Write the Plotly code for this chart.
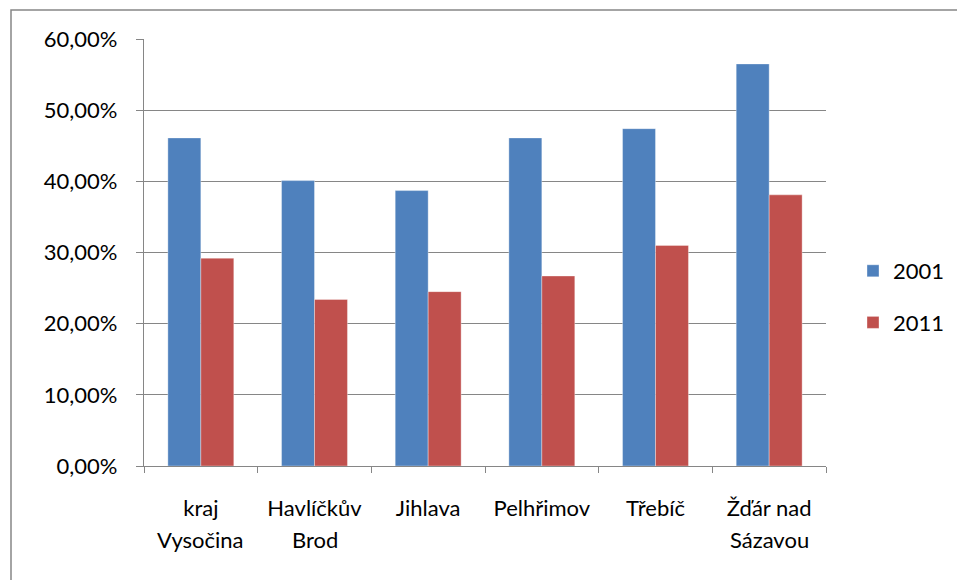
import plotly.graph_objects as go

categories = ["kraj Vysočina", "Havlíčkův Brod", "Jihlava", "Pelhřimov", "Třebíč", "Žďár nad Sázavou"]
label_line1 = ["kraj", "Havlíčkův", "Jihlava", "Pelhřimov", "Třebíč", "Žďár nad"]
label_line2 = ["Vysočina", "Brod", "", "", "", "Sázavou"]
values_2001 = [46.1, 40.1, 38.7, 46.1, 47.4, 56.5]
values_2011 = [29.2, 23.4, 24.5, 26.7, 31.0, 38.1]
y_tickvals = [0, 10, 20, 30, 40, 50, 60]
y_ticktext = ["0,00%", "10,00%", "20,00%", "30,00%", "40,00%", "50,00%", "60,00%"]

FONT = "Lato, 'Noto Sans', sans-serif"
FS = 22
GRID = "#868686"

fig = go.Figure()
fig.add_trace(go.Bar(x=categories, y=values_2001, name="2001", legendgroup="a",
                     marker=dict(color="#4F81BD", line=dict(color="rgba(255,255,255,0.35)", width=1))))
fig.add_trace(go.Bar(x=categories, y=values_2011, name="2011", legendgroup="b",
                     marker=dict(color="#C0504D", line=dict(color="rgba(255,255,255,0.35)", width=1))))

ml, mr, mt, mb = 144, 131, 39, 114
W, H = 957, 580
pw, ph = W - ml - mr, H - mt - mb

annotations = []
for c, l2 in zip(categories, label_line2):
    if l2:
        annotations.append(dict(x=c, xref="x", y=0, yref="paper", yshift=-73, text=l2,
                                showarrow=False, yanchor="middle",
                                font=dict(family=FONT, size=FS, color="#000000")))

fig.update_layout(
    width=W, height=H,
    margin=dict(l=ml, r=mr, t=mt, b=mb, autoexpand=False),
    paper_bgcolor="white", plot_bgcolor="white",
    barmode="group", bargap=0.42, bargroupgap=0,
    font=dict(family=FONT, size=FS, color="#000000"),
    legend=dict(x=(853 - ml) / pw, xanchor="left", y=(H - mb - 297) / ph, yanchor="middle",
                tracegroupgap=20, font=dict(size=FS), bgcolor="rgba(0,0,0,0)"),
    annotations=annotations,
    shapes=[dict(type="rect", xref="paper", yref="paper",
                 x0=(11 - ml) / pw, x1=(W + 20 - ml) / pw,
                 y0=-(H + 20 - mt - ph) / ph, y1=(H - mb - 10) / ph,
                 line=dict(color=GRID, width=1.5), fillcolor="rgba(0,0,0,0)", layer="below")],
    showlegend=True,
)
fig.update_xaxes(
    tickmode="array", tickvals=categories, ticktext=label_line1,
    tickson="boundaries", ticks="outside", ticklen=6, tickcolor=GRID, tickwidth=1.3,
    showline=True, linecolor=GRID, linewidth=1.3, showgrid=False,
    ticklabelstandoff=22, tickfont=dict(size=FS),
)
fig.update_yaxes(
    range=[0, 60], tickmode="array", tickvals=y_tickvals, ticktext=y_ticktext,
    ticks="outside", ticklen=7, tickcolor=GRID, tickwidth=1.3,
    showline=True, linecolor=GRID, linewidth=1.3,
    showgrid=True, gridcolor=GRID, gridwidth=1.3, zeroline=False,
    ticklabelstandoff=14, tickfont=dict(size=FS),
)
fig.write_html("out.html", config={"displayModeBar": False},
               post_script="document.body.style.margin='0px';")
